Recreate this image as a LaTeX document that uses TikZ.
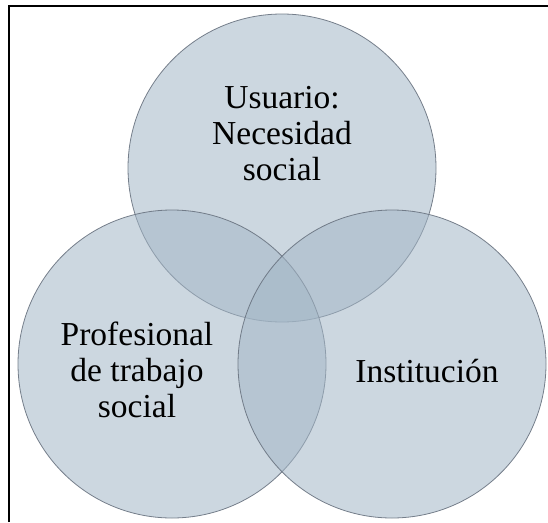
\documentclass[tikz,border=0pt]{standalone}
\usepackage{fontspec}
\setmainfont{Liberation Serif}
\definecolor{vennfill}{RGB}{163,182,198}
\definecolor{venndraw}{RGB}{105,115,128}

\begin{document}
\begin{tikzpicture}[x=1pt,y=-1pt,
  vennset/.style={circle, draw=venndraw, line width=0.8pt, fill=vennfill,
                  fill opacity=0.55, draw opacity=0.9,
                  minimum size=308pt, inner sep=0pt},
  setname/.style={align=center, font=\fontsize{33.5}{36}\selectfont, text=black}
]
  \useasboundingbox (0,0) rectangle (548,522);
  % frame
  \draw[line width=1.4pt] (9,522) -- (9,6) -- (548,6);
  % the three sets
  \node[vennset] (usuario) at (282,168) {};
  \node[vennset] (profesional) at (172,364) {};
  \node[vennset] (institucion) at (392,364) {};
  % names
  \node[setname] (tusuario) at (282,134) {Usuario:\\Necesidad\\social};
  \node[setname] (tprofesional) at (137,370) {Profesional\\de trabajo\\social};
  \node[setname] (tinstitucion) at (427,371) {Institución};
\end{tikzpicture}
\end{document}
